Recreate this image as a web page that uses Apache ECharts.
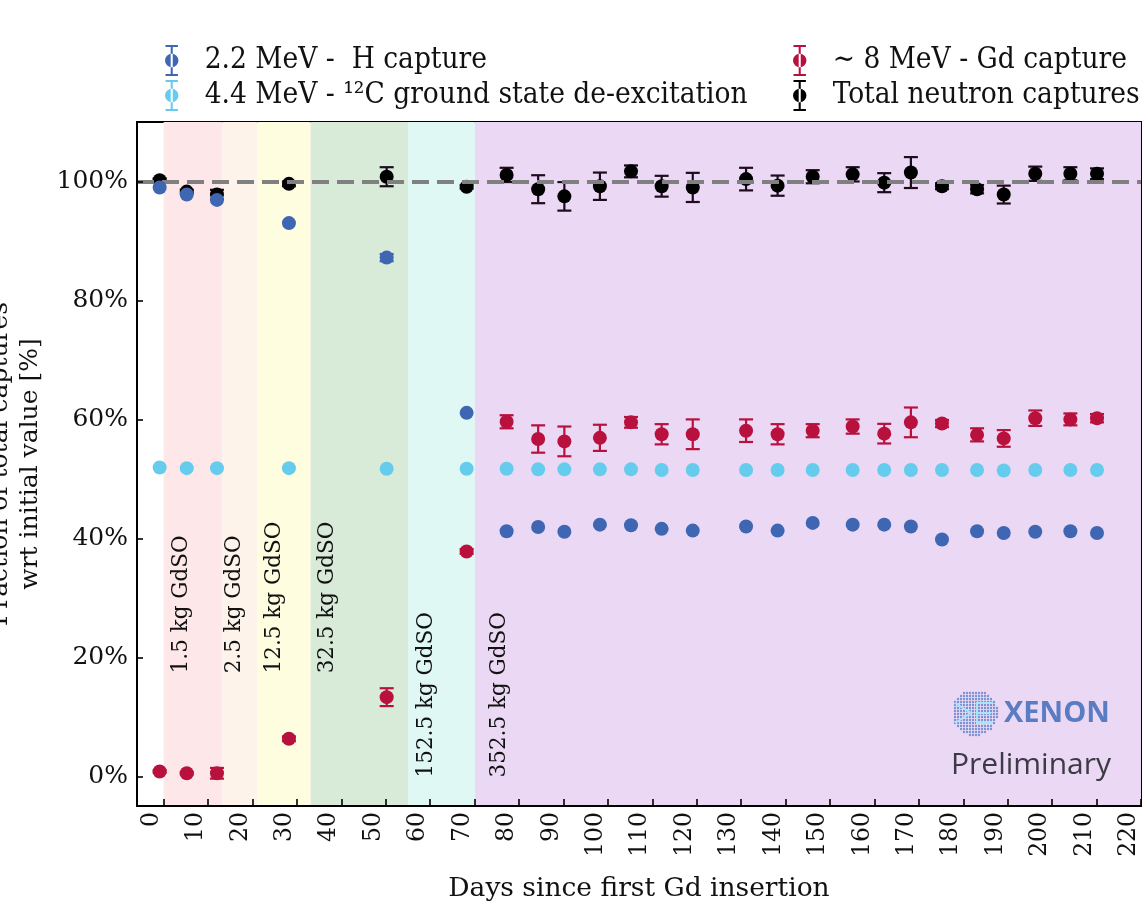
<!DOCTYPE html>
<html>
<head>
<meta charset="utf-8">
<script src="https://cdn.jsdelivr.net/npm/echarts@6/dist/echarts.min.js"></script>
<style>
  html, body { margin: 0; padding: 0; background: #fff; }
  #chart { width: 1145px; height: 901px; }
</style>
</head>
<body>
<div id="chart"></div>
<script>
// Measurement days since the first Gd insertion
const days = [-0.9, 5.2, 12.0, 28.2, 50.2, 68.2, 77.2, 84.3, 90.2, 98.2, 105.2, 112.1, 119.1,
  131.1, 138.2, 146.1, 155.1, 162.2, 168.2, 175.2, 183.1, 189.1, 196.2, 204.1, 210.1];

// 2.2 MeV - H capture (fraction of initial total, %)
const hCapture = [99.0, 97.8, 96.9, 93.0, 87.2, 61.1, 41.2, 41.9, 41.1, 42.3, 42.2, 41.6, 41.3,
  42.0, 41.3, 42.6, 42.3, 42.3, 42.0, 39.8, 41.2, 40.9, 41.1, 41.2, 40.9];
const hErr = [0, 0, 0, 0, 0.6, 0, 0, 0, 0, 0, 0, 0, 0,
  0, 0, 0, 0, 0, 0, 0, 0, 0, 0, 0, 0];

// 4.4 MeV - 12C ground state de-excitation
const cCapture = [51.9, 51.8, 51.8, 51.8, 51.7, 51.7, 51.7, 51.6, 51.6, 51.6, 51.6, 51.5, 51.5,
  51.5, 51.5, 51.5, 51.5, 51.5, 51.5, 51.5, 51.5, 51.4, 51.5, 51.5, 51.5];
const cErr = [0, 0, 0, 0, 0, 0, 0, 0, 0, 0, 0, 0, 0,
  0, 0, 0, 0, 0, 0, 0, 0, 0, 0, 0, 0];

// ~8 MeV - Gd capture
const gdCapture = [0.8, 0.5, 0.5, 6.3, 13.3, 37.8, 59.6, 56.7, 56.3, 56.9, 59.5, 57.5, 57.5,
  58.1, 57.5, 58.1, 58.8, 57.6, 59.5, 59.3, 57.4, 56.8, 60.2, 60.0, 60.2];
const gdErr = [0.2, 0.2, 0.9, 0.4, 1.5, 0.4, 1.1, 2.3, 2.5, 2.2, 0.9, 1.7, 2.5,
  1.9, 1.7, 1.1, 1.2, 1.65, 2.5, 0.6, 1.1, 1.4, 1.3, 1.0, 0.7];

// Total neutron captures
const totalCapture = [100.2, 98.3, 97.8, 99.6, 100.8, 99.1, 101.1, 98.7, 97.5, 99.2, 101.7, 99.2, 99.0,
  100.4, 99.3, 100.8, 101.2, 99.8, 101.5, 99.2, 98.7, 97.8, 101.3, 101.3, 101.3];
const totalErr = [0.3, 0.3, 0.8, 0.4, 1.6, 0.3, 1.2, 2.35, 2.4, 2.3, 1.0, 1.75, 2.45,
  1.9, 1.7, 1.1, 1.2, 1.6, 2.6, 0.5, 0.7, 1.5, 1.2, 1.1, 0.9];

// Gd loading phases (start / end day) and their labels
const phaseStart = [0, 13.2, 21.1, 33.1, 55.0, 70.05];
const phaseEnd = [13.2, 21.1, 33.1, 55.0, 70.05, 220];
const phaseColors = ['#fde7e9', '#fdf3ea', '#fefde0', '#d8ead8', '#dff8f4', '#ebd8f4'];
const phaseLabels = ['1.5 kg GdSO', '2.5 kg GdSO', '12.5 kg GdSO', '32.5 kg GdSO', '152.5 kg GdSO', '352.5 kg GdSO'];
const phaseLabelDay = [4.0, 16.0, 25.0, 36.9, 59.2, 75.5];
const phaseLabelBase = [17.3, 17.3, 17.3, 17.3, -0.2, -0.2];

// Axis ticks
const xTicks = [0, 10, 20, 30, 40, 50, 60, 70, 80, 90, 100, 110, 120, 130, 140, 150, 160, 170, 180, 190, 200, 210, 220];
const yTicks = [0, 20, 40, 60, 80, 100];

const seriesNames = [
  '2.2 MeV -  H capture',
  '4.4 MeV - \u00b9\u00b2C ground state de-excitation',
  '\u223c 8 MeV - Gd capture',
  'Total neutron captures'
];
const colors = {
  h: '#3e66b3',
  c: '#66ccee',
  gd: '#b8113e',
  total: '#000000'
};

const SERIF = "'DejaVu Serif', serif";
const SERIF_NARROW = "'DejaVu Serif Condensed', 'DejaVu Serif', serif";

// marker with an error bar, used as legend icon
const errIcon = 'path://M1,0 H13 V2 H1 Z M6,0 H8 V30 H6 Z M1,28 H13 V30 H1 Z M0.5,15 A6.5,6.5 0 1,0 13.5,15 A6.5,6.5 0 1,0 0.5,15 Z';

function zip3(xs, ys, es) {
  return xs.map((x, i) => [x, ys[i], es[i]]);
}

function errorBarRenderer(color, barColor) {
  return function (params, api) {
    const x = api.value(0), y = api.value(1), e = api.value(2);
    const c = api.coord([x, y]);
    const children = [];
    if (e > 0) {
      const top = api.coord([x, y + e]);
      const bot = api.coord([x, y - e]);
      const st = { stroke: barColor, lineWidth: 2.2 };
      children.push({ type: 'line', shape: { x1: c[0], y1: top[1], x2: c[0], y2: bot[1] }, style: st });
      children.push({ type: 'line', shape: { x1: c[0] - 7, y1: top[1], x2: c[0] + 7, y2: top[1] }, style: st });
      children.push({ type: 'line', shape: { x1: c[0] - 7, y1: bot[1], x2: c[0] + 7, y2: bot[1] }, style: st });
    }
    children.push({ type: 'circle', shape: { cx: c[0], cy: c[1], r: 7 }, style: { fill: color } });
    return { type: 'group', children: children };
  };
}

function pointSeries(name, data, color, barColor, z) {
  return {
    name: name,
    type: 'custom',
    z: z,
    data: data,
    encode: { x: 0, y: 1 },
    itemStyle: { color: color },
    renderItem: errorBarRenderer(color, barColor),
    silent: true
  };
}

// XENON logo: dotted disc with light strokes
const logoCx = 975, logoCy = 713, logoR = 23;
const logoDots = [];
for (let dy = -logoR; dy <= logoR; dy += 3) {
  for (let dx = -logoR; dx <= logoR; dx += 3) {
    if (dx * dx + dy * dy <= logoR * logoR) {
      logoDots.push({
        type: 'circle',
        z: 50,
        shape: { cx: logoCx + dx, cy: logoCy + dy, r: 1.2 },
        style: { fill: '#7b93d2' },
        silent: true
      });
    }
  }
}
const logoStrokes = [
  { type: 'polyline', z: 51, shape: { points: [[logoCx - 20, logoCy - 10], [logoCx - 4, logoCy], [logoCx - 20, logoCy + 10]] }, style: { stroke: '#a6e6f6', lineWidth: 2, fill: 'none' } },
  { type: 'polyline', z: 51, shape: { points: [[logoCx + 18, logoCy - 10], [logoCx + 2, logoCy - 10], [logoCx + 2, logoCy + 10], [logoCx + 18, logoCy + 10]] }, style: { stroke: '#a6e6f6', lineWidth: 2, fill: 'none' } },
  { type: 'line', z: 51, shape: { x1: logoCx + 2, y1: logoCy, x2: logoCx + 16, y2: logoCy }, style: { stroke: '#a6e6f6', lineWidth: 2 } }
];

const chart = echarts.init(document.getElementById('chart'), null, { renderer: 'canvas' });

const option = {
  backgroundColor: '#ffffff',
  animation: false,
  textStyle: { fontFamily: SERIF },
  grid: {
    left: 137, top: 122, right: 4, bottom: 95,
    containLabel: false,
    outerBoundsMode: 'none',
    show: true,
    borderColor: '#000',
    borderWidth: 2
  },
  legend: [
    {
      left: 160, top: 40, orient: 'vertical',
      itemWidth: 56, itemHeight: 31, itemGap: 4,
      selectedMode: false,
      textStyle: { fontFamily: SERIF_NARROW, fontSize: 29.5, color: '#111' },
      data: [
        { name: seriesNames[0], icon: errIcon },
        { name: seriesNames[1], icon: errIcon }
      ]
    },
    {
      left: 788, top: 40, orient: 'vertical',
      itemWidth: 56, itemHeight: 31, itemGap: 4,
      selectedMode: false,
      textStyle: { fontFamily: SERIF_NARROW, fontSize: 29.5, color: '#111' },
      data: [
        { name: seriesNames[2], icon: errIcon },
        { name: seriesNames[3], icon: errIcon }
      ]
    }
  ],
  xAxis: {
    type: 'value',
    min: -6, max: 220,
    z: 20,
    name: 'Days since first Gd insertion',
    nameLocation: 'middle',
    nameGap: 70,
    nameTextStyle: { fontFamily: SERIF, fontSize: 26.5, color: '#111', verticalAlign: 'top' },
    axisLine: { show: true, onZero: false, lineStyle: { color: '#000', width: 2 } },
    axisTick: { show: true, inside: true, length: 7, lineStyle: { color: '#000', width: 1.6 }, customValues: xTicks },
    axisLabel: {
      customValues: xTicks,
      rotate: 90, margin: 6,
      verticalAlign: 'bottom',
      fontFamily: SERIF, fontSize: 23.5, color: '#111'
    },
    splitLine: { show: false }
  },
  yAxis: {
    type: 'value',
    min: -5, max: 110,
    z: 20,
    name: 'Fraction of total captures\nwrt initial value [%]',
    nameLocation: 'middle',
    nameRotate: 90,
    nameGap: 76,
    nameTextStyle: { fontFamily: SERIF, fontSize: 25, color: '#111', lineHeight: 30 },
    axisLine: { show: true, onZero: false, lineStyle: { color: '#000', width: 2 } },
    axisTick: { show: true, inside: true, length: 6, lineStyle: { color: '#000', width: 1.6 }, customValues: yTicks },
    axisLabel: {
      customValues: yTicks,
      margin: 9,
      formatter: v => v + '%',
      fontFamily: SERIF, fontSize: 25, color: '#111'
    },
    splitLine: { show: false }
  },
  series: [
    {
      name: 'phases',
      type: 'line',
      z: 0,
      silent: true,
      data: [],
      markArea: {
        silent: true,
        label: { show: false },
        data: phaseStart.map((s, i) => [
          { xAxis: s, itemStyle: { color: phaseColors[i], opacity: 1 } },
          { xAxis: phaseEnd[i] }
        ])
      }
    },
    {
      name: 'phase labels',
      type: 'custom',
      z: 1,
      silent: true,
      data: phaseLabels.map((t, i) => [phaseLabelDay[i], phaseLabelBase[i], t]),
      encode: { x: 0, y: 1 },
      renderItem: function (params, api) {
        const c = api.coord([api.value(0), api.value(1)]);
        return {
          type: 'text',
          x: c[0], y: c[1],
          rotation: Math.PI / 2,
          style: {
            text: phaseLabels[params.dataIndex],
            font: "21.5px 'DejaVu Serif', serif",
            fill: '#111',
            align: 'left',
            verticalAlign: 'middle'
          }
        };
      }
    },
    {
      name: 'reference',
      type: 'line',
      z: 2,
      silent: true,
      data: [],
      markLine: {
        silent: true,
        symbol: ['none', 'none'],
        label: { show: false },
        lineStyle: { color: '#808080', width: 4, type: [17, 8] },
        data: [{ yAxis: 100 }]
      }
    },
    pointSeries(seriesNames[3], zip3(days, totalCapture, totalErr), colors.total, '#1e0c1e', 3),
    pointSeries(seriesNames[2], zip3(days, gdCapture, gdErr), colors.gd, colors.gd, 4),
    pointSeries(seriesNames[1], zip3(days, cCapture, cErr), colors.c, colors.c, 5),
    pointSeries(seriesNames[0], zip3(days, hCapture, hErr), colors.h, colors.h, 6)
  ],
  graphic: {
    elements: [
      ...logoDots,
      ...logoStrokes,
      {
        type: 'text', left: 1004, top: 699, z: 52, silent: true,
        style: { text: 'XENON', font: "bold 29px 'Open Sans', sans-serif", fill: '#5a7cc3' }
      },
      {
        type: 'text', left: 951, top: 750, z: 52, silent: true,
        style: { text: 'Preliminary', font: "30px 'Open Sans', sans-serif", fill: '#3c3a44' }
      }
    ]
  }
};

chart.setOption(option);
</script>
</body>
</html>
